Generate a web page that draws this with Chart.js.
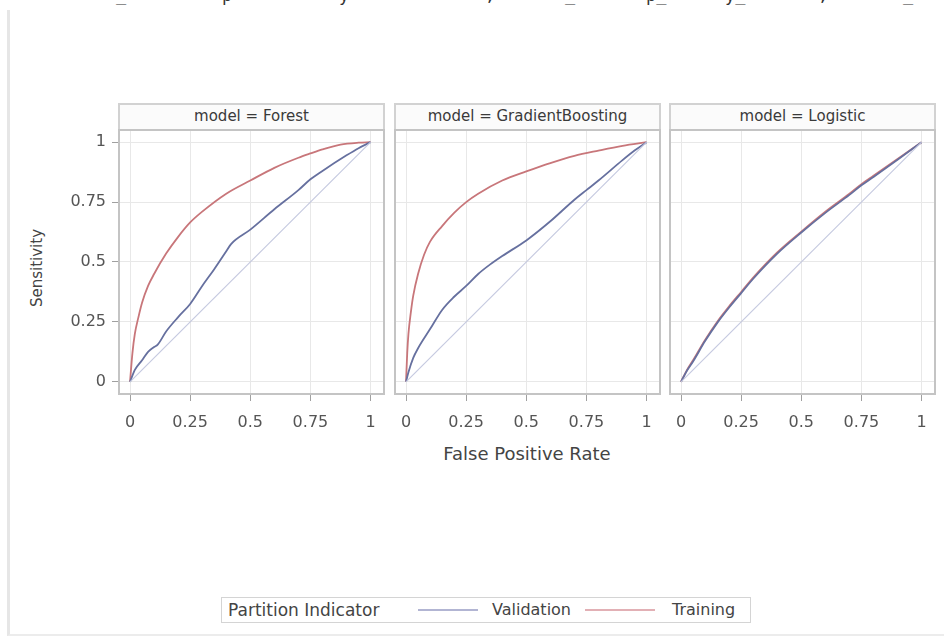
<!DOCTYPE html>
<html>
<head>
<meta charset="utf-8">
<script src="https://cdn.jsdelivr.net/npm/chart.js@4.4.1/dist/chart.umd.min.js"></script>
<style>
  body { margin: 0; background: #fff; width: 944px; height: 637px; overflow: hidden; position: relative; font-family: "DejaVu Sans", sans-serif; }
  .abs { position: absolute; }
  .outer { position: absolute; left: 7px; top: 10px; width: 950px; height: 624px; border-left: 3px solid #e6e6e6; border-bottom: 2px solid #ececec; }
  .frag { position: absolute; top: -15px; font-size: 17px; color: #333; font-family: "DejaVu Sans Mono", monospace; }
  .header { position: absolute; top: 103px; height: 28px; width: 267px; border: 2px solid #d2d2d2; box-sizing: border-box; background: #fbfbfb; font-size: 15px; color: #3a3a3a; text-align: center; line-height: 23px; }
  .frame { position: absolute; top: 129px; width: 267px; height: 266px; border: 2px solid #c4c4c4; box-sizing: border-box; pointer-events: none; }
  .legend { position: absolute; left: 221px; top: 597px; width: 530px; height: 26px; border: 1px solid #d4d4d4; box-sizing: border-box; }
  .swatch { position: absolute; height: 2px; top: 609px; }
  .ltext { position: absolute; top: 600px; font-size: 16px; color: #444; line-height: 20px; }
</style>
</head>
<body>
<div class="outer"></div>
<span class="frag" style="left:116px">_</span>
<span class="frag" style="left:222px">p</span>
<span class="frag" style="left:339px">y</span>
<span class="frag" style="left:485px">,</span>
<span class="frag" style="left:565px">_</span>
<span class="frag" style="left:646px">p_</span>
<span class="frag" style="left:725px">y_</span>
<span class="frag" style="left:818px">,</span>
<span class="frag" style="left:903px">_</span>

<div class="header" style="left:118px">model = Forest</div>
<div class="header" style="left:394px">model = GradientBoosting</div>
<div class="header" style="left:669px">model = Logistic</div>

<div class="abs" style="left:60px;top:129px"><canvas id="c1" width="325" height="310"></canvas></div>
<div class="abs" style="left:394px;top:129px"><canvas id="c2" width="267" height="310"></canvas></div>
<div class="abs" style="left:669px;top:129px"><canvas id="c3" width="267" height="310"></canvas></div>

<div class="frame" style="left:118px"></div>
<div class="frame" style="left:394px"></div>
<div class="frame" style="left:669px"></div>

<div class="abs" style="left:327px;width:400px;top:443px;text-align:center;font-size:18px;color:#444">False Positive Rate</div>
<div class="abs" style="left:-13px;top:259px;width:100px;text-align:center;font-size:15px;color:#444;transform:rotate(-90deg)">Sensitivity</div>

<div class="legend"></div>
<div class="ltext" style="left:228px;font-size:17px">Partition Indicator</div>
<div class="swatch" style="left:418px;width:60px;background:#b2b5d3"></div>
<div class="ltext" style="left:492px">Validation</div>
<div class="swatch" style="left:585px;width:70px;background:#e2b0b5"></div>
<div class="ltext" style="left:672px">Training</div>

<script>
// 坐标轴刻度
const tickVals = [0, 0.25, 0.5, 0.75, 1];
const tickLabels = ['0', '0.25', '0.5', '0.75', '1'];
const diagonal = [0, 1];

// Forest
const fprForestTrain = [0, 0.01, 0.02, 0.035, 0.05, 0.075, 0.1, 0.15, 0.2, 0.25, 0.3, 0.4, 0.5, 0.6, 0.7, 0.75, 0.8, 0.875, 0.95, 1];
const tprForestTrain = [0, 0.12, 0.2, 0.27, 0.33, 0.4, 0.45, 0.535, 0.605, 0.665, 0.71, 0.785, 0.84, 0.893, 0.935, 0.953, 0.97, 0.99, 0.998, 1];
const fprForestValid = [0, 0.02, 0.05, 0.075, 0.1, 0.115, 0.15, 0.2, 0.25, 0.3, 0.35, 0.4, 0.42, 0.5, 0.6, 0.7, 0.75, 0.8, 0.9, 0.95, 1];
const tprForestValid = [0, 0.05, 0.09, 0.125, 0.145, 0.155, 0.21, 0.27, 0.325, 0.4, 0.47, 0.545, 0.575, 0.635, 0.72, 0.8, 0.845, 0.88, 0.945, 0.975, 1];

// GradientBoosting
const fprGbTrain = [0, 0.005, 0.01, 0.02, 0.03, 0.05, 0.075, 0.1, 0.15, 0.2, 0.25, 0.3, 0.4, 0.5, 0.6, 0.7, 0.8, 0.9, 1];
const tprGbTrain = [0, 0.12, 0.2, 0.29, 0.36, 0.45, 0.53, 0.585, 0.65, 0.705, 0.75, 0.785, 0.84, 0.878, 0.913, 0.943, 0.965, 0.985, 1];
const fprGbValid = [0, 0.01, 0.03, 0.05, 0.1, 0.15, 0.2, 0.25, 0.3, 0.35, 0.4, 0.5, 0.6, 0.7, 0.75, 0.8, 0.9, 0.95, 1];
const tprGbValid = [0, 0.04, 0.1, 0.14, 0.22, 0.3, 0.355, 0.4, 0.45, 0.49, 0.525, 0.59, 0.67, 0.76, 0.8, 0.84, 0.925, 0.965, 1];

// Logistic
const fprLogTrain = [0, 0.025, 0.05, 0.1, 0.15, 0.2, 0.25, 0.3, 0.4, 0.5, 0.6, 0.7, 0.75, 0.8, 0.9, 1];
const tprLogTrain = [0, 0.05, 0.09, 0.175, 0.25, 0.315, 0.375, 0.435, 0.54, 0.627, 0.71, 0.785, 0.825, 0.86, 0.93, 1];
const fprLogValid = [0, 0.025, 0.05, 0.1, 0.15, 0.2, 0.25, 0.3, 0.4, 0.5, 0.6, 0.7, 0.75, 0.8, 0.9, 1];
const tprLogValid = [0, 0.047, 0.085, 0.17, 0.245, 0.31, 0.37, 0.43, 0.535, 0.623, 0.705, 0.78, 0.82, 0.855, 0.927, 1];

const trainColor = '#c8767a';
const validColor = '#66709f';
const diagColor = '#c6cae0';

function pts(xs, ys) {
    return xs.map((x, i) => ({ x: x, y: ys[i] }));
}

// 去掉Chart.js为刻度标签预留的边距, 让绘图区与外框对齐
function noPad(s) {
    s.paddingLeft = 0;
    s.paddingRight = 0;
    s.paddingTop = 0;
    s.paddingBottom = 0;
}

function makeChart(id, train, valid, showY) {
    const ctx = document.getElementById(id).getContext('2d');
    return new Chart(ctx, {
        type: 'scatter',
        data: {
            datasets: [
                { data: pts(diagonal, diagonal), borderColor: diagColor, borderWidth: 1.2, showLine: true, pointRadius: 0 },
                { data: valid, borderColor: validColor, borderWidth: 1.8, showLine: true, pointRadius: 0, cubicInterpolationMode: 'monotone' },
                { data: train, borderColor: trainColor, borderWidth: 1.8, showLine: true, pointRadius: 0, cubicInterpolationMode: 'monotone' }
            ]
        },
        options: {
            responsive: false,
            animation: false,
            layout: { padding: 0 },
            plugins: { legend: { display: false }, tooltip: { enabled: false } },
            scales: {
                x: {
                    type: 'linear', min: -0.05, max: 1.06,
                    afterBuildTicks: s => { s.ticks = tickVals.map(v => ({ value: v })); },
                    afterFit: s => { s.height = 44; noPad(s); },
                    border: { display: false },
                    grid: { color: '#e8e8e8', tickColor: '#a0a0a0', tickLength: 6 },
                    ticks: {
                        autoSkip: false, maxRotation: 0, padding: 12, color: '#555',
                        font: { family: 'DejaVu Sans', size: 16 },
                        callback: (v, i) => tickLabels[i]
                    }
                },
                y: {
                    type: 'linear', min: -0.055, max: 1.055,
                    afterBuildTicks: s => { s.ticks = tickVals.map(v => ({ value: v })); },
                    afterFit: s => { s.width = showY ? 58 : 0; noPad(s); },
                    border: { display: false },
                    grid: { color: '#e8e8e8', tickColor: '#a0a0a0', tickLength: 6, drawTicks: showY },
                    ticks: {
                        display: showY, padding: 6, color: '#555',
                        font: { family: 'DejaVu Sans', size: 16 },
                        callback: (v, i) => tickLabels[i]
                    }
                }
            }
        }
    });
}

makeChart('c1', pts(fprForestTrain, tprForestTrain), pts(fprForestValid, tprForestValid), true);
makeChart('c2', pts(fprGbTrain, tprGbTrain), pts(fprGbValid, tprGbValid), false);
makeChart('c3', pts(fprLogTrain, tprLogTrain), pts(fprLogValid, tprLogValid), false);
</script>
</body>
</html>
